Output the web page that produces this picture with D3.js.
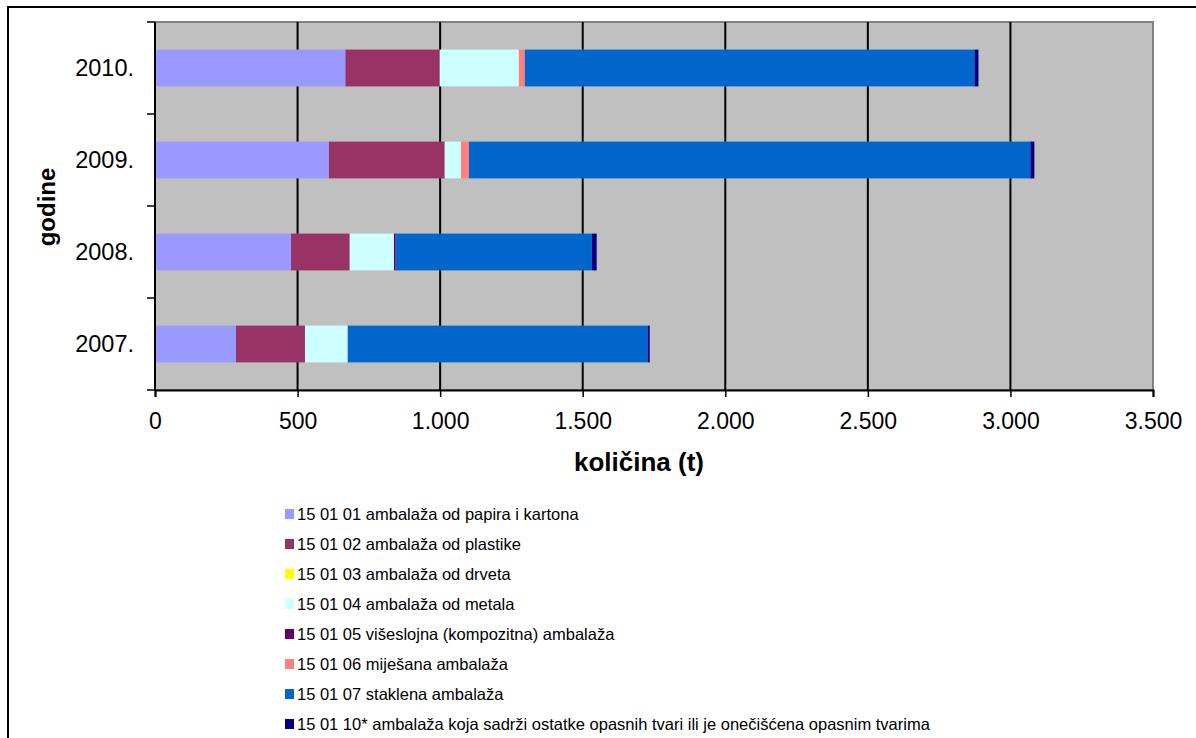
<!DOCTYPE html>
<html>
<head>
<meta charset="utf-8">
<script src="https://cdn.jsdelivr.net/npm/d3@7"></script>
<style>
  body { margin: 0; background: #fff; }
  svg { display: block; font-family: "Liberation Sans", Arial, sans-serif; }
</style>
</head>
<body>
<svg id="chart" width="1196" height="738"></svg>
<script>
// Years (top to bottom as drawn)
const years = ["2010.", "2009.", "2008.", "2007."];

// Waste packaging categories (stack order, left to right)
const seriesNames = [
  "15 01 01 ambalaža od papira i kartona",
  "15 01 02 ambalaža od plastike",
  "15 01 03 ambalaža od drveta",
  "15 01 04 ambalaža od metala",
  "15 01 05 višeslojna (kompozitna) ambalaža",
  "15 01 06 miješana ambalaža",
  "15 01 07 staklena ambalaža",
  "15 01 10* ambalaža koja sadrži ostatke opasnih tvari ili je onečišćena opasnim tvarima"
];
const seriesColors = ["#9999ff", "#993366", "#ffff00", "#ccffff", "#660066", "#ff8080", "#0066cc", "#000080"];

// Quantities in tonnes, one array per category, in the order of `years`
const papir      = [668, 610, 477, 284];
const plastika   = [330, 406, 206, 242];
const drvo       = [0, 0, 0, 0];
const metal      = [278, 57, 155, 150];
const visesloj   = [0, 0, 6, 0];
const mijesana   = [21, 28, 0, 0];
const staklena   = [1577, 1969, 688, 1052];
const opasna     = [14, 14, 17, 7];
const seriesValues = [papir, plastika, drvo, metal, visesloj, mijesana, staklena, opasna];

const xTicks = [0, 500, 1000, 1500, 2000, 2500, 3000, 3500];
const xTickLabels = ["0", "500", "1.000", "1.500", "2.000", "2.500", "3.000", "3.500"];

const svg = d3.select("#chart");

// outer frame
svg.append("rect").attr("x", 8).attr("y", 7).attr("width", 1196).attr("height", 740)
  .attr("fill", "#fff").attr("stroke", "#000").attr("stroke-width", 2);

const plot = { left: 155, top: 22, right: 1153, bottom: 390 };

const x = d3.scaleLinear().domain([0, 3500]).range([plot.left, plot.right]);
const y = d3.scaleBand().domain(years).range([plot.top, plot.bottom]).paddingInner(0.6).paddingOuter(0.3);
const yTicks = d3.scaleBand().domain(years).range([plot.top, plot.bottom]);

// plot background
svg.append("rect").attr("x", plot.left).attr("y", plot.top)
  .attr("width", plot.right - plot.left).attr("height", plot.bottom - plot.top)
  .attr("fill", "#c0c0c0").attr("stroke", "#808080").attr("stroke-width", 2);

// vertical gridlines
svg.append("g").selectAll("line").data(xTicks.slice(1, -1)).join("line")
  .attr("x1", d => x(d)).attr("x2", d => x(d))
  .attr("y1", plot.top).attr("y2", plot.bottom)
  .attr("stroke", "#000").attr("stroke-width", 2);

// stacked data
const rows = years.map((yr, i) => {
  const o = { year: yr };
  seriesNames.forEach((s, j) => { o[s] = seriesValues[j][i]; });
  return o;
});
const stacked = d3.stack().keys(seriesNames)(rows);

svg.append("g").selectAll("g").data(stacked).join("g")
  .attr("fill", (d, i) => seriesColors[i])
  .selectAll("rect").data(d => d).join("rect")
  .attr("x", d => x(d[0]))
  .attr("width", d => x(d[1]) - x(d[0]))
  .attr("y", d => y(d.data.year))
  .attr("height", y.bandwidth());

// x axis
const xAxis = svg.append("g").attr("transform", `translate(0,${plot.bottom})`)
  .call(d3.axisBottom(x).tickValues(xTicks).tickFormat((d, i) => xTickLabels[i]).tickSize(7).tickPadding(16));
xAxis.select(".domain").attr("stroke", "#000").attr("stroke-width", 2);
xAxis.selectAll(".tick line").attr("stroke", "#000").attr("stroke-width", 1.5);
xAxis.selectAll("text").attr("font-size", 23).attr("fill", "#000")
  .attr("font-family", "'Liberation Sans', Arial, sans-serif");

// y axis: ticks at band boundaries, labels at band centers
const yAxisG = svg.append("g");
yAxisG.append("line").attr("x1", plot.left).attr("x2", plot.left)
  .attr("y1", plot.top).attr("y2", plot.bottom).attr("stroke", "#000").attr("stroke-width", 2);
const boundaries = years.map(d => yTicks(d)).concat([plot.bottom]);
yAxisG.selectAll("line.tk").data(boundaries).join("line").attr("class", "tk")
  .attr("x1", plot.left - 8).attr("x2", plot.left)
  .attr("y1", d => d).attr("y2", d => d)
  .attr("stroke", "#000").attr("stroke-width", 1.5);
yAxisG.selectAll("text").data(years).join("text")
  .attr("x", 134).attr("y", d => yTicks(d) + yTicks.bandwidth() / 2)
  .attr("dy", "0.36em").attr("text-anchor", "end")
  .attr("font-size", 23.5).attr("fill", "#000").text(d => d);

// axis titles
svg.append("text").attr("x", 639).attr("y", 471).attr("text-anchor", "middle")
  .attr("font-size", 26).attr("font-weight", "bold").text("količina (t)");
svg.append("text").attr("transform", "translate(55,207) rotate(-90)").attr("text-anchor", "middle")
  .attr("font-size", 24).attr("font-weight", "bold").text("godine");

// legend
const legend = svg.append("g").attr("transform", "translate(285,514)");
const li = legend.selectAll("g").data(seriesNames).join("g")
  .attr("transform", (d, i) => `translate(0,${i * 30})`);
li.append("rect").attr("x", 0).attr("y", -5).attr("width", 9).attr("height", 10)
  .attr("fill", (d, i) => seriesColors[i]);
li.append("text").attr("x", 12).attr("y", 0).attr("dy", "0.36em")
  .attr("font-size", 16.5).attr("fill", "#000").text(d => d);
</script>
</body>
</html>
